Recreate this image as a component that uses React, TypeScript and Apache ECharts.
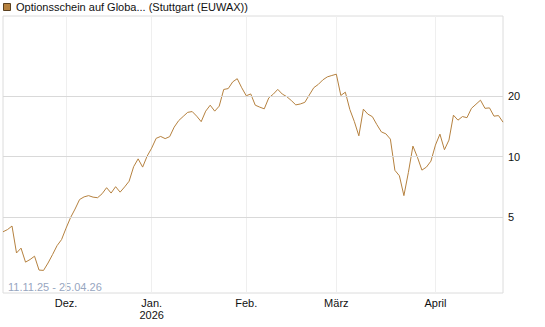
import React, { useEffect, useRef } from "react";
import * as echarts from "echarts";

const TITLE = "Optionsschein auf Globa... (Stuttgart (EUWAX))";
const RANGE_LABEL = "11.11.25 - 25.04.26";
const START_DATE = "2025-11-11";
const END_DATE = "2026-04-24";
const HOLIDAYS = ["2025-12-24", "2025-12-25", "2025-12-26", "2025-12-31", "2026-01-01", "2026-04-03", "2026-04-06"];
const MONTH_NAMES = ["Jan.", "Feb.", "März", "April", "Mai", "Juni", "Juli", "Aug.", "Sep.", "Okt.", "Nov.", "Dez."];
const Y_TICKS = [5, 10, 20];
const Y_MIN = 2.1;
const Y_MAX = 50;

const prices = [
  4.23, 4.34, 4.52, 3.32, 3.51, 2.99, 3.08, 3.2, 2.73, 2.72,
  2.96, 3.26, 3.61, 3.87, 4.41, 4.98, 5.49, 6.12, 6.31, 6.4,
  6.29, 6.25, 6.54, 7.01, 6.59, 7.09, 6.66, 7.07, 7.55, 8.91,
  9.75, 8.87, 10.06, 11.02, 12.33, 12.6, 12.29, 12.57, 14.01, 15.1,
  15.84, 16.6, 16.75, 15.89, 14.92, 16.83, 18.02, 16.83, 17.82, 21.57,
  21.79, 23.53, 24.4, 21.99, 20.07, 20.49, 18.02, 17.62, 17.28, 19.59,
  20.44, 21.59, 20.46, 19.86, 19.01, 18.08, 18.27, 18.61, 20.25, 22.02,
  22.86, 24.07, 24.91, 25.31, 25.69, 20.14, 20.91, 17.14, 14.94, 12.69,
  17.22, 16.26, 15.8, 14.42, 13.27, 12.98, 12.22, 8.55, 8.03, 6.4,
  8.35, 11.28, 9.94, 8.57, 8.87, 9.5, 11.41, 12.94, 10.82, 12.08,
  16.07, 15.18, 15.82, 15.62, 17.38, 18.21, 19.08, 17.38, 17.47, 15.89,
  16.0, 14.84,
];

function tradingDays(start: string, end: string, holidays: string[]): string[] {
  const out: string[] = [];
  const d = new Date(start + "T12:00:00Z");
  const e = new Date(end + "T12:00:00Z");
  while (d <= e) {
    const iso = d.toISOString().slice(0, 10);
    const wd = d.getUTCDay();
    if (wd !== 0 && wd !== 6 && holidays.indexOf(iso) < 0) out.push(iso);
    d.setUTCDate(d.getUTCDate() + 1);
  }
  return out;
}

export default function App() {
  const ref = useRef<HTMLDivElement>(null);
  useEffect(() => {
    if (!ref.current) return;
    const chart = echarts.init(ref.current, null, { renderer: "svg" });
    const dates = tradingDays(START_DATE, END_DATE, HOLIDAYS).slice(0, prices.length);
    const isMonthStart = (i: number) => i > 0 && dates[i].slice(5, 7) !== dates[i - 1].slice(5, 7);
    const font = 'Arial, "Liberation Sans", sans-serif';
    chart.setOption({
      animation: false,
      textStyle: { fontFamily: font },
      grid: {
        left: 3,
        right: 42,
        top: 16,
        bottom: 34,
        show: true,
        borderColor: "#dcdcdc",
        borderWidth: 1,
        backgroundColor: "#fff",
      },
      xAxis: {
        type: "category",
        data: dates,
        boundaryGap: false,
        axisLine: { show: false },
        axisTick: { show: false },
        axisLabel: {
          interval: (i: number) => isMonthStart(i),
          color: "#111",
          fontSize: 11,
          fontFamily: font,
          margin: 4,
          lineHeight: 12,
          formatter: (v: string) => {
            const m = parseInt(v.slice(5, 7), 10);
            const name = MONTH_NAMES[m - 1];
            return m === 1 ? name + "\n" + v.slice(0, 4) : name;
          },
        },
        splitLine: {
          show: true,
          interval: (i: number) => isMonthStart(i),
          lineStyle: { color: "#efefef", width: 1 },
        },
      },
      yAxis: {
        type: "log",
        logBase: 10,
        min: Y_MIN,
        max: Y_MAX,
        position: "right",
        axisLine: { show: false },
        axisTick: { show: false },
        axisLabel: { show: false },
        splitLine: { show: false },
      },
      graphic: [
        {
          type: "rect",
          left: 3,
          top: 3,
          shape: { width: 7, height: 7 },
          style: { fill: "#b5813f", stroke: "#5a4020", lineWidth: 1 },
        },
        {
          type: "text",
          left: 16,
          top: 1,
          style: { text: TITLE, fill: "#111", font: "11px " + font },
        },
        {
          type: "text",
          left: 8,
          top: 281,
          style: { text: RANGE_LABEL, fill: "#97a6bf", font: "11px " + font },
        },
      ],
      series: [
        {
          type: "line",
          data: prices,
          showSymbol: false,
          symbol: "none",
          lineStyle: { color: "#b5813f", width: 1 },
          markLine: {
            silent: true,
            symbol: "none",
            lineStyle: { color: "#d9d9d9", width: 1, type: "solid" },
            label: {
              show: true,
              position: "end",
              distance: 5,
              color: "#111",
              fontSize: 11,
              fontFamily: font,
              formatter: (p: any) => String(p.value),
            },
            data: Y_TICKS.map((v) => ({ yAxis: v })),
          },
          z: 3,
        },
      ],
    });
    return () => chart.dispose();
  }, []);
  return (
    <div
      ref={ref}
      style={{ position: "fixed", left: 0, top: 0, width: 545, height: 327, background: "#fff" }}
    />
  );
}
